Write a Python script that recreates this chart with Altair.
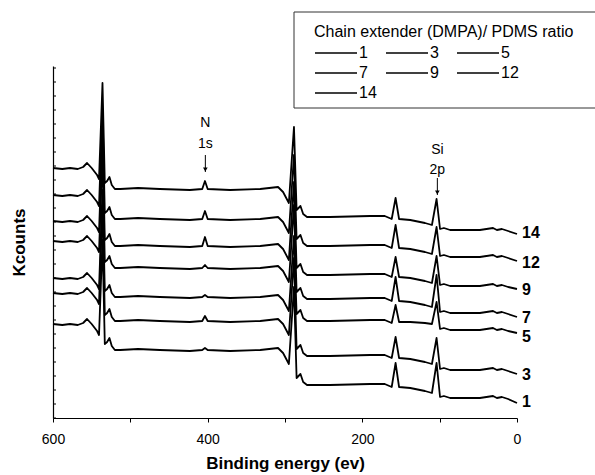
import altair as alt
import pandas as pd

FONT = "Liberation Sans"

# Binding energy (eV) of the read-off points shared by all spectra
ENERGY = [600, 588, 578, 568, 561, 556, 550, 543, 540.5, 536,
          533, 530, 527, 524, 520, 513, 490, 462, 423, 407,
          403.5, 400, 371, 332, 309, 302.5, 295, 288.4, 285, 280,
          276.5, 271.5, 242, 190, 171, 162, 157, 152.5, 138, 119,
          110, 104, 99.5, 94.5, 86.5, 48, 31, 26, 19.5, 11.5,
          0]

# Offset intensities (arbitrary Kcounts)
R14 = [250, 249, 250, 249, 251, 255, 250, 243, 239, 335,
       235, 237, 241, 233, 229, 229, 230, 229, 228, 229,
       237, 229, 228, 229, 231, 226, 215, 291, 208, 212,
       204, 201, 201, 202, 202, 199, 220, 199, 198, 195,
       193, 219, 189, 190, 188, 188, 190, 188, 189, 187,
       184]
R12 = [223, 222, 223, 222, 224, 228, 223, 216, 212, 308,
       205, 207, 211, 203, 199, 199, 200, 199, 198, 199,
       207, 199, 198, 199, 201, 196, 185, 263, 179, 183,
       175, 172, 172, 173, 173, 170, 193, 170, 169, 166,
       164, 191, 162, 163, 161, 161, 163, 161, 162, 160,
       157]
R9 = [197, 196, 197, 196, 198, 202, 197, 190, 186, 283,
      178, 180, 184, 176, 172, 172, 173, 172, 171, 172,
      181, 172, 171, 172, 174, 169, 158, 236, 150, 154,
      146, 143, 143, 144, 144, 141, 161, 141, 140, 137,
      135, 162, 133, 134, 132, 132, 134, 132, 133, 131,
      129]
R7 = [177, 176, 177, 176, 178, 182, 177, 170, 166, 263,
      156, 158, 162, 154, 150, 150, 151, 150, 149, 150,
      153, 150, 149, 150, 152, 147, 136, 213, 126, 130,
      122, 119, 119, 120, 120, 117, 141, 117, 116, 113,
      111, 143, 106, 107, 105, 105, 107, 105, 106, 104,
      101]
R5 = [140, 139, 140, 139, 141, 145, 140, 133, 129, 228,
      127, 129, 133, 125, 121, 121, 122, 121, 120, 121,
      123, 121, 120, 121, 123, 118, 107, 182, 104, 108,
      100, 97, 97, 98, 98, 95, 113, 96, 96, 95,
      94, 116, 89, 90, 88, 88, 90, 88, 89, 87,
      85]
R3 = [125, 124, 125, 124, 126, 130, 125, 118, 114, 213,
      103, 105, 109, 101, 97, 97, 98, 97, 96, 97,
      102, 97, 96, 97, 99, 94, 83, 160, 69, 73,
      65, 62, 62, 63, 63, 60, 81, 60, 59, 56,
      54, 80, 49, 50, 48, 48, 50, 48, 49, 47,
      44]
R1 = [94, 93, 94, 93, 95, 99, 94, 87, 83, 178,
      74, 76, 80, 72, 68, 68, 69, 68, 67, 68,
      70, 68, 67, 68, 70, 65, 54, 131, 40, 44,
      36, 33, 33, 34, 34, 31, 55, 31, 30, 27,
      25, 55, 21, 22, 20, 20, 22, 20, 21, 19,
      15]

SERIES = ["1", "3", "5", "7", "9", "12", "14"]
COUNTS = {"1": R1, "3": R3, "5": R5, "7": R7, "9": R9, "12": R12, "14": R14}

# right-hand curve labels
END_LABELS = ["14", "12", "9", "7", "5", "3", "1"]
END_LABEL_Y = [185, 155, 128, 100, 81, 43, 16]

# peak annotations
ANN_TEXT = ["N", "1s", "Si", "2p"]
ANN_E = [403, 403, 103, 103]
ANN_Y = [295, 274, 268, 248]
ARROW_E = [403, 103]
ARROW_TOP = [263, 240]
ARROW_TIP = [246, 223]
ARROW_HEAD = [248.5, 225.5]

# inward minor ticks on the counts axis
Y_TICKS = [0, 14, 28, 42, 56, 70, 84, 98, 112, 126, 140, 154, 168, 182,
           196, 210, 224, 238, 252, 266, 280, 294, 308, 322, 336, 350]

rows = []
for s in SERIES:
    for e, v in zip(ENERGY, COUNTS[s]):
        rows.append({"energy": e, "counts": v, "ratio": s})
df = pd.DataFrame(rows)

x_scale = alt.Scale(domain=[0, 600], reverse=True, nice=False)
y_scale = alt.Scale(domain=[0, 352], nice=False, zero=False)

x_axis = alt.Axis(
    values=[600, 500, 400, 300, 200, 100, 0],
    labelExpr="datum.value % 200 === 0 ? datum.label : ''",
    tickSize=4, tickColor="black", tickWidth=1,
    domainColor="black", domainWidth=1.2,
    labelFont=FONT, labelFontSize=14, labelColor="black", labelPadding=10,
    labelFlush=False, labelOverlap=False, grid=False,
    title="Binding energy (ev)", titleFont=FONT, titleFontSize=17,
    titleFontWeight="bold", titleColor="black", titlePadding=9,
)
y_axis = alt.Axis(
    labels=False, ticks=False, grid=False,
    domainColor="black", domainWidth=1.2,
    title="Kcounts", titleFont=FONT, titleFontSize=17,
    titleFontWeight="bold", titleColor="black", titlePadding=25,
)

X = alt.X("energy:Q", scale=x_scale, axis=x_axis)
Y = alt.Y("counts:Q", scale=y_scale, axis=y_axis)

legend = alt.Legend(
    orient="none", legendX=261, legendY=-42, direction="horizontal",
    columns=3, gridAlign="all",
    symbolType="stroke", symbolSize=1764, symbolStrokeWidth=1.5,
    clipHeight=16, rowPadding=4, columnPadding=8, labelOffset=1,
    labelFont=FONT, labelFontSize=16, labelColor="black",
    title="Chain extender (DMPA)/ PDMS ratio", titleFont=FONT,
    titleFontSize=16, titleFontWeight="normal", titleColor="black",
    titleLimit=400, titlePadding=5, padding=0,
)

frame = alt.Chart(pd.DataFrame({"k": [0]})).mark_rect(
    fill="white", fillOpacity=0, stroke="#333333", strokeWidth=1
).encode(x=alt.value(241), x2=alt.value(560), y=alt.value(-54), y2=alt.value(42))

yticks = alt.Chart(pd.DataFrame({"counts": Y_TICKS})).mark_rule(
    color="black", strokeWidth=1
).encode(y=Y, x=alt.value(0), x2=alt.value(3))

lines = alt.Chart(df).mark_line(strokeWidth=1.8, strokeJoin="round").encode(
    x=X, y=Y,
    color=alt.Color("ratio:N", scale=alt.Scale(domain=SERIES, range=["black"] * 7),
                    legend=legend),
)

end_labels = alt.Chart(pd.DataFrame({
    "energy": [0] * len(END_LABELS), "counts": END_LABEL_Y, "t": END_LABELS
})).mark_text(align="left", baseline="middle", dx=5, font=FONT, fontSize=16,
              fontWeight="bold", color="black").encode(x=X, y=Y, text="t:N")

ann = alt.Chart(pd.DataFrame({"energy": ANN_E, "counts": ANN_Y, "t": ANN_TEXT})).mark_text(
    align="center", baseline="middle", font=FONT, fontSize=14, color="black"
).encode(x=X, y=Y, text="t:N")

arrows = alt.Chart(pd.DataFrame({"energy": ARROW_E, "counts": ARROW_TOP, "tip": ARROW_TIP})).mark_rule(
    color="black", strokeWidth=1
).encode(x=X, y=Y, y2=alt.Y2("tip:Q"))

heads = alt.Chart(pd.DataFrame({"energy": ARROW_E, "counts": ARROW_HEAD})).mark_point(
    shape="triangle-down", filled=True, size=22, color="black", opacity=1
).encode(x=X, y=Y)

chart = alt.layer(frame, yticks, lines, end_labels, ann, arrows, heads).properties(
    width=464, height=352,
    padding={"left": 53, "top": 66, "right": 78, "bottom": 57},
    autosize=alt.AutoSizeParams(type="none"),
).configure_view(stroke=None)

chart.save("out.html", embed_options={"renderer": "svg", "actions": False})
